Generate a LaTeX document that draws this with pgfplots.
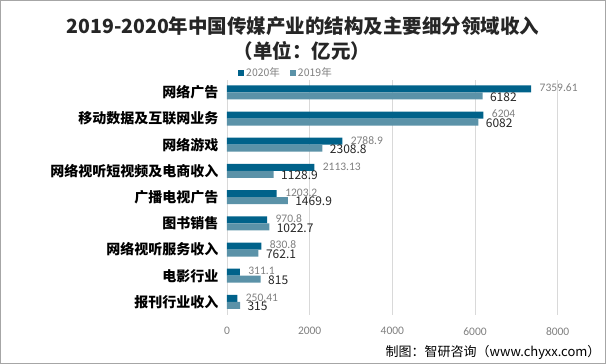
\documentclass[border=0pt]{standalone}
\usepackage{pgfplots}
\pgfplotsset{compat=1.18}
\usepackage{fontspec}
\setmainfont{Noto Sans CJK SC}
\newfontfamily\carlito{Carlito}
\definecolor{c2020}{HTML}{00628A}
\definecolor{c2019}{HTML}{5B92A8}
\definecolor{labgray}{HTML}{7F7F7F}
\definecolor{gridc}{HTML}{D9D9D9}
\definecolor{framec}{HTML}{A6A6A6}
\definecolor{dark}{HTML}{262626}
\begin{document}
\begin{tikzpicture}[x=1pt,y=1pt]
\useasboundingbox (0,0) rectangle (606,364);
\draw[framec, line width=0.8pt] (0.5,0.5) rectangle (605.5,363.5);
\node[font=\bfseries\fontsize{19.5}{22}\selectfont, text=dark] at (303,338) {2019-2020年中国传媒产业的结构及主要细分领域收入};
\node[font=\bfseries\fontsize{19.5}{22}\selectfont, text=dark] at (302,313) {（单位：亿元）};
\node[anchor=east, font=\fontsize{13}{15}\selectfont, text=black] at (604,11.3) {制图：智研咨询（www.chyxx.com）};
\begin{axis}[
  at={(227pt,49pt)}, anchor=south west,
  scale only axis, width=372pt, height=235pt,
  xbar, bar width=7pt,
  xmin=0, xmax=9000,
  ymin=-0.47, ymax=8.5, y dir=reverse,
  xtick={0,2000,4000,6000,8000},
  ytick={0,1,2,3,4,5,6,7,8},
  yticklabels={网络广告,移动数据及互联网业务,网络游戏,网络视听短视频及电商收入,广播电视广告,图书销售,网络视听服务收入,电影行业,报刊行业收入},
  yticklabel style={font=\bfseries\fontsize{14}{16}\selectfont, text=black, xshift=-5pt},
  xticklabel style={font=\carlito\fontsize{11.5}{13}\selectfont, text=labgray, yshift=-9pt},
  /pgf/number format/assume math mode=true,
  /pgf/number format/1000 sep={},
  scaled x ticks=false,
  major tick length=0pt,
  axis line style={draw=none},
  xmajorgrids, grid style={gridc, line width=0.8pt},
  point meta=explicit symbolic,
  legend columns=2,
  legend style={draw=none, fill=none, at={(0.1586,1.031)}, anchor=center,
    font=\fontsize{10.5}{12}\selectfont, text=labgray,
    /tikz/every even column/.append style={column sep=8pt}},
  legend image code/.code={\fill[#1] (0pt,-3pt) rectangle (6pt,3pt);},
]
\addplot[fill=c2020, draw=none, bar shift=3.5pt,
  nodes near coords,
  every node near coord/.append style={font=\carlito\fontsize{11.5}{12}\selectfont, text=labgray, anchor=west, xshift=5pt, yshift=1pt}]
  coordinates {(7359.61,0) [7359.61] (6204,1) [6204] (2788.9,2) [2788.9] (2113.13,3) [2113.13] (1203.2,4) [1203.2] (970.8,5) [970.8] (830.8,6) [830.8] (311.1,7) [311.1] (250.41,8) [250.41]};
\addlegendentry{2020年}
\addplot[fill=c2019, draw=none, bar shift=-3.5pt,
  nodes near coords,
  every node near coord/.append style={font=\fontsize{12}{13}\selectfont, text=dark, anchor=west, xshift=4pt, yshift=-1pt}]
  coordinates {(6182,0) [6182] (6082,1) [6082] (2308.8,2) [2308.8] (1128.9,3) [1128.9] (1469.9,4) [1469.9] (1022.7,5) [1022.7] (762.1,6) [762.1] (815,7) [815] (315,8) [315]};
\addlegendentry{2019年}
\end{axis}
\end{tikzpicture}
\end{document}
